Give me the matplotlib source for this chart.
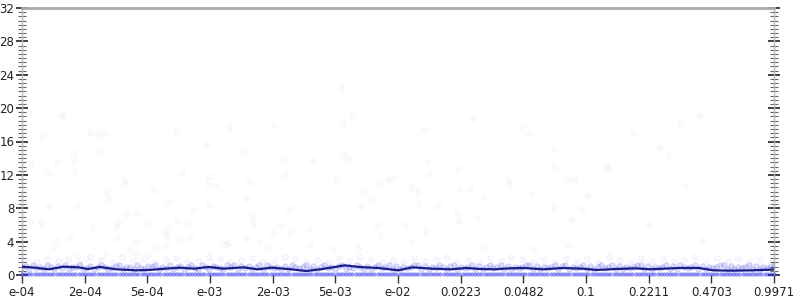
import numpy as np
import matplotlib
matplotlib.use("Agg")
import matplotlib.pyplot as plt
from matplotlib.ticker import MultipleLocator

# ---------------- data ----------------
tick_labels = ["e-04", "2e-04", "5e-04", "e-03", "2e-03", "5e-03", "e-02",
               "0.0223", "0.0482", "0.1", "0.2211", "0.4703", "0.9971"]

# scattered (sparse) observations: position on axis (tick units), value
out_x = [0.116, 0.618, 0.654, 0.319, 1.085, 1.213, 1.313, 2.462, 3.324, 4.021,
         2.947, 3.526, 0.809, 1.229, 0.825, 0.554, 0.128, 0.415, 0.835, 2.548,
         1.644, 1.648, 2.979, 2.984, 3.075, 3.622, 1.336, 1.383, 2.095, 3.595,
         2.325, 2.724, 2.989, 0.415, 0.873, 1.671, 1.830, 3.670, 3.697, 0.128,
         0.308, 1.128, 1.527, 1.516, 2.011, 2.473, 2.644, 2.362, 2.277, 2.309,
         1.516, 2.521, 2.681, 0.771, 0.538, 4.010, 1.824, 3.203, 3.303, 3.260,
         3.590, 3.787, 0.506, 2.298, 3.905, 1.723, 2.127,
         2.006, 1.830, 1.336, 0.873, 1.021,
         5.111, 5.282, 5.106, 7.185, 6.419, 7.978, 8.079, 4.185, 4.632, 5.138,
         5.197, 6.458, 4.201, 5.031, 5.845, 5.931, 5.701, 5.441, 5.580, 6.212,
         6.298, 6.314, 6.499, 6.957, 6.978, 7.144, 7.351, 7.766, 7.771, 6.638,
         4.256, 5.393, 6.941, 6.973, 7.256, 4.154, 4.281, 4.580, 5.660, 6.107,
         6.435, 5.728, 4.596, 6.212, 7.377, 4.958, 5.357,
         10.814, 10.515, 9.749, 8.494, 10.164, 10.324, 8.484, 9.339, 9.330, 8.692,
         8.803, 10.575, 8.138, 9.036, 8.468, 8.936, 8.760, 9.989, 10.871, 8.708,
         8.170]
out_y = [19.39, 19.27, 18.91, 16.71, 17.11, 16.91, 17.03, 17.27, 17.71, 18.02,
         15.67, 15.02, 14.59, 14.75, 13.79, 13.51, 13.43, 12.19, 12.43, 12.27,
         11.39, 11.03, 11.79, 10.76, 10.76, 11.12, 9.95, 9.15, 10.23, 9.11,
         8.72, 7.76, 8.43, 8.12, 8.31, 7.31, 7.47, 6.92, 6.20, 6.47,
         6.27, 5.67, 6.27, 5.72, 6.27, 6.47, 6.27, 5.60, 5.31, 4.68,
         4.47, 4.40, 4.40, 4.47, 4.16, 5.07, 3.99, 4.04, 3.99, 3.56,
         4.32, 3.96, 3.32, 3.44, 3.15, 3.03, 3.15,
         2.36, 2.43, 2.52, 2.28, 2.07,
         22.39, 19.22, 18.14, 18.74, 17.47, 17.59, 16.87, 14.03, 13.82, 14.47,
         14.03, 13.51, 11.95, 11.43, 11.43, 11.63, 10.79, 9.92, 8.99, 10.55,
         9.95, 8.60, 12.11, 12.71, 10.31, 10.31, 9.35, 11.39, 10.95, 8.27,
         7.95, 8.19, 7.43, 6.47, 6.80, 5.88, 5.19, 5.55, 5.96, 5.96,
         5.28, 4.68, 3.56, 3.99, 3.44, 3.08, 3.20,
         19.22, 18.14, 17.03, 15.14, 15.31, 14.35, 12.91, 13.23, 12.75, 11.35,
         11.39, 10.64, 9.75, 9.44, 8.19, 7.95, 6.68, 6.15, 4.23, 3.48,
         3.08]

# dense band of observations (ordered by rank along the axis)
band_y = [0.9, 1.1, 0.75, 1.2, 0.8, 1.0, 0.7, 1.15, 0.9, 0.75, 1.1, 0.8, 1.2, 0.7, 1.0,
          0.95, 1.15, 0.75, 0.85, 1.1, 0.7, 1.0, 1.2, 0.9, 0.75, 0.8, 1.05, 1.15, 0.7, 0.9,
          1.0, 0.75, 1.2, 0.8, 0.7, 1.1, 0.9, 1.15, 0.75, 1.0, 0.85, 1.2, 0.7, 0.9, 1.1,
          0.75, 1.0, 1.15, 0.8, 0.7, 1.2, 0.95, 0.75, 1.1, 1.0, 0.8, 0.7, 1.15, 0.9, 1.2,
          0.75, 1.05, 0.8, 1.1, 0.7, 0.9, 1.2, 0.75, 1.15, 1.0, 0.85, 0.9, 0.7, 1.1, 0.75,
          1.2, 1.0, 0.8, 0.95, 1.15, 0.7, 1.1, 0.75, 1.0, 1.2, 0.8, 0.9, 0.7, 1.05, 1.15,
          0.75, 1.0, 0.85, 1.2, 0.9, 0.7, 1.1, 0.75, 1.0, 1.15, 0.8, 0.95, 1.2, 0.7, 1.1,
          0.75, 1.0, 0.8, 0.9, 1.2, 1.15, 0.7, 1.05, 0.75, 1.0, 0.85, 1.2, 0.9, 0.7, 1.1,
          1.15, 0.75, 1.0, 0.8, 0.95, 1.2, 0.7, 1.1, 0.75, 1.0, 1.15, 0.8, 0.9, 1.2, 0.7,
          1.05, 0.75, 1.0, 0.85, 0.9, 1.15, 1.2, 0.7, 1.1, 0.75, 1.0, 0.8, 0.95, 1.2, 0.7,
          1.1, 1.15, 0.75, 1.0, 0.8, 0.9, 1.2, 0.7, 1.05, 0.75, 1.0, 1.15, 0.85, 0.9, 1.2,
          0.7, 1.1, 0.75, 1.0, 0.8, 0.95, 1.2, 1.15, 0.7, 1.1, 0.75, 1.0, 0.8, 0.9, 1.2,
          0.7, 1.05, 0.75, 1.15, 1.0, 0.85, 0.9, 1.2, 0.7, 1.1, 0.75, 1.0, 0.8, 0.95, 1.2,
          1.15, 0.7, 1.1, 0.75, 1.0, 0.8, 0.9, 1.2, 0.7, 1.05, 0.75, 1.0, 0.85, 0.9, 1.15]

# lighter row just above the band
upper_y = [1.8, 1.6, 2.0, 1.7, 1.9, 1.5, 2.1, 1.8, 1.6, 2.2, 1.7, 1.9, 1.5, 1.8, 2.0,
           1.6, 1.7, 2.1, 1.9, 1.5, 1.8, 2.0, 1.6, 1.7, 2.2, 1.9, 1.5, 1.8, 1.6, 2.0,
           1.7, 2.1, 1.9, 1.5, 1.8, 1.6, 2.0, 1.7, 1.9, 2.2, 1.5, 1.8, 1.6, 2.0, 1.7,
           2.1, 1.9, 1.5, 1.8, 1.6, 2.0, 1.7, 1.9, 1.5, 2.1, 1.8, 1.6, 2.0, 1.7, 1.9,
           1.5, 1.8, 2.2, 1.6, 2.0, 1.7, 1.9, 1.5, 1.8, 1.6]

# observations equal to (nearly) zero
zero_y = [0.12, 0.14, 0.11, 0.13, 0.15, 0.12, 0.14, 0.10, 0.13, 0.12, 0.14, 0.11,
          0.13, 0.12, 0.15, 0.11, 0.13, 0.14, 0.12, 0.10, 0.13, 0.15, 0.12, 0.14,
          0.11, 0.13, 0.12, 0.14, 0.10, 0.15, 0.12, 0.13, 0.11, 0.14, 0.12, 0.13,
          0.15, 0.11, 0.12, 0.14, 0.10, 0.13, 0.12, 0.15, 0.11, 0.14, 0.12, 0.13,
          0.14, 0.11, 0.12, 0.15, 0.10, 0.13, 0.12, 0.14, 0.11, 0.13, 0.15, 0.12,
          0.13, 0.11, 0.14, 0.12, 0.10, 0.15, 0.13, 0.12, 0.14, 0.11, 0.13, 0.12,
          0.15, 0.10, 0.14, 0.12, 0.13, 0.11, 0.14, 0.12, 0.15, 0.13, 0.11, 0.12,
          0.14, 0.10, 0.13, 0.15, 0.12, 0.11, 0.14, 0.13, 0.12, 0.15, 0.10, 0.13,
          0.12, 0.14, 0.11, 0.13, 0.15, 0.12, 0.14, 0.10, 0.13, 0.12, 0.14, 0.11,
          0.13, 0.12, 0.15, 0.11, 0.13, 0.14, 0.12, 0.10, 0.13, 0.15, 0.12, 0.14,
          0.11, 0.13, 0.12, 0.14, 0.10, 0.15, 0.12, 0.13, 0.11, 0.14, 0.12, 0.13,
          0.15, 0.11, 0.12, 0.14, 0.10, 0.13, 0.12, 0.15, 0.11, 0.14, 0.12, 0.13,
          0.14, 0.11, 0.12, 0.15, 0.10, 0.13, 0.12, 0.14, 0.11, 0.13, 0.15, 0.12,
          0.13, 0.11, 0.14, 0.12, 0.10, 0.15, 0.13, 0.12, 0.14, 0.11, 0.13, 0.12,
          0.15, 0.10, 0.14, 0.12, 0.13, 0.11, 0.14, 0.12, 0.15, 0.13, 0.11, 0.12,
          0.14, 0.10, 0.13, 0.15, 0.12, 0.11, 0.14, 0.13, 0.12, 0.15, 0.10, 0.13,
          0.12, 0.14, 0.11, 0.13, 0.15, 0.12, 0.14, 0.10, 0.13, 0.12, 0.14, 0.11,
          0.13, 0.12, 0.15, 0.11, 0.13, 0.14, 0.12, 0.10, 0.13, 0.15, 0.12, 0.14,
          0.11, 0.13, 0.12, 0.14, 0.10, 0.15, 0.12, 0.13, 0.11, 0.14, 0.12, 0.13,
          0.15, 0.11, 0.12, 0.14, 0.10, 0.13, 0.12, 0.15, 0.11, 0.14, 0.12, 0.13]

# running mean line
line_x = [0.0, 0.20, 0.43, 0.66, 0.90, 1.05, 1.24, 1.51, 1.82, 2.02, 2.29, 2.52,
          2.75, 2.98, 3.22, 3.53, 3.76, 3.99, 4.30, 4.53, 4.76, 4.99, 5.15, 5.38,
          5.69, 6.00, 6.23, 6.54, 6.85, 7.08, 7.31, 7.55, 7.78, 8.01, 8.32, 8.63,
          8.94, 9.17, 9.48, 9.79, 10.02, 10.25, 10.49, 10.80, 11.03, 11.34, 11.65,
          11.96, 12.0]
line_y = [1.00, 0.88, 0.68, 1.00, 0.92, 0.72, 0.96, 0.68, 0.56, 0.60, 0.76, 0.88,
          0.76, 0.96, 0.76, 0.92, 0.68, 0.88, 0.68, 0.48, 0.68, 0.96, 1.16, 0.96,
          0.84, 0.56, 0.92, 0.76, 0.68, 0.84, 0.72, 0.68, 0.80, 0.84, 0.68, 0.84,
          0.76, 0.60, 0.72, 0.80, 0.68, 0.76, 0.84, 0.84, 0.56, 0.52, 0.56, 0.64,
          0.68]

# ---------------- plot ----------------
fig = plt.figure(figsize=(8, 3), dpi=100)
ax = fig.add_axes([22 / 800, 25 / 300, 752 / 800, 267 / 300])

n_t = len(tick_labels) - 1
band_x = np.linspace(0, n_t, len(band_y))
upper_x = np.linspace(0.05, n_t - 0.05, len(upper_y))
zero_x = np.linspace(0, n_t, len(zero_y))

blue = (0.15, 0.15, 0.95)
ax.scatter(out_x, out_y, s=16, facecolor=(*blue, 0.015), edgecolor=(*blue, 0.04),
           linewidths=0.6, zorder=2)
ax.scatter(upper_x, upper_y, s=16, facecolor=(*blue, 0.03), edgecolor=(*blue, 0.05),
           linewidths=0.6, zorder=2)
ax.scatter(band_x, band_y, s=16, facecolor=(*blue, 0.16), edgecolor=(*blue, 0.18),
           linewidths=0.5, zorder=3)
ax.scatter(zero_x, zero_y, s=7, facecolor=(*blue, 0.45), edgecolor=(*blue, 0.45),
           linewidths=0.3, zorder=3, clip_on=False)
ax.plot(line_x, line_y, color="#1c1c86", lw=1.6, zorder=5)

ax.set_xlim(0, n_t)
ax.set_ylim(0, 32)
ax.set_xticks(range(len(tick_labels)))
ax.set_xticklabels(tick_labels)
ax.yaxis.set_major_locator(MultipleLocator(4))
ax.yaxis.set_minor_locator(MultipleLocator(0.5))

for s in ["left", "right"]:
    ax.spines[s].set_color("#bbbbbb")
    ax.spines[s].set_linewidth(1)
ax.spines["top"].set_color("#aaaaaa")
ax.spines["top"].set_linewidth(2)
ax.spines["bottom"].set_visible(False)

ax.tick_params(axis="y", which="major", direction="inout", length=9, width=1.2,
               color="#222222", left=True, right=True, labelsize=8.5, pad=1)
ax.tick_params(axis="y", which="minor", direction="inout", length=6, width=0.8,
               color="#666666", left=True, right=True)
ax.tick_params(axis="x", which="major", direction="out", length=6, width=1,
               color="#333333", labelsize=8.5, pad=2)
for lab in ax.get_xticklabels() + ax.get_yticklabels():
    lab.set_color("#222222")

fig.savefig("out.png", dpi=100)
